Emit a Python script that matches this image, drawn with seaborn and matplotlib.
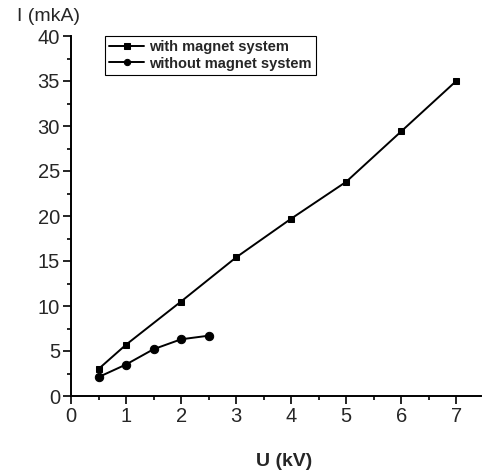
import matplotlib
matplotlib.use("Agg")
import matplotlib.pyplot as plt
import seaborn as sns
import pandas as pd
from matplotlib.ticker import MultipleLocator

u_with = [0.5, 1, 2, 3, 4, 5, 6, 7]
i_with = [3.0, 5.7, 10.5, 15.4, 19.7, 23.8, 29.4, 35.0]
u_without = [0.5, 1, 1.5, 2, 2.5]
i_without = [2.1, 3.5, 5.2, 6.3, 6.7]
labels = ["with magnet system", "without magnet system"]

sns.set_style("ticks")
plt.rcParams['font.family'] = ['Liberation Sans', 'DejaVu Sans']

fig = plt.figure(figsize=(4.86, 4.75), dpi=100)
ax = fig.add_axes([71/486, 79/475, (481-71)/486, (396-36)/475])

df1 = pd.DataFrame({"U": u_with, "I": i_with})
df2 = pd.DataFrame({"U": u_without, "I": i_without})
sns.lineplot(data=df1, x="U", y="I", ax=ax, color="black", marker="s", markersize=5,
             markeredgecolor="black", linewidth=1.4, label=labels[0])
sns.lineplot(data=df2, x="U", y="I", ax=ax, color="black", marker="o", markersize=6,
             markeredgecolor="black", linewidth=1.4, label=labels[1])

ax.set_xlim(0, 7.45)
ax.set_ylim(0, 40)
ax.xaxis.set_major_locator(MultipleLocator(1))
ax.xaxis.set_minor_locator(MultipleLocator(0.5))
ax.yaxis.set_major_locator(MultipleLocator(5))
ax.yaxis.set_minor_locator(MultipleLocator(2.5))
ax.tick_params(which="major", length=6, width=1.2, color="black", labelsize=14.5, pad=2)
ax.tick_params(which="minor", length=3, width=1.2, color="black")
for s in ["left", "bottom"]:
    ax.spines[s].set_linewidth(1.4)
    ax.spines[s].set_color("black")
sns.despine(ax=ax)

ax.set_xlabel("U (kV)", fontsize=14, fontweight="bold")
ax.xaxis.set_label_coords((284-71)/410, -57/360)
ax.set_ylabel("")
fig.text(17/486, 1 - 21/475, "I (mkA)", fontsize=14, ha="left", va="baseline")

leg = ax.legend(loc="upper left", bbox_to_anchor=((105-71)/410, (396-36)/360),
                borderaxespad=0,
                frameon=True, fancybox=False, edgecolor="black", framealpha=1,
                prop={"weight": "bold", "size": 10.5}, handlelength=2.4,
                handletextpad=0.3, borderpad=0.3, labelspacing=0.15,
                markerscale=0.75)
leg.get_frame().set_linewidth(0.8)

fig.savefig("out.png", dpi=100)
